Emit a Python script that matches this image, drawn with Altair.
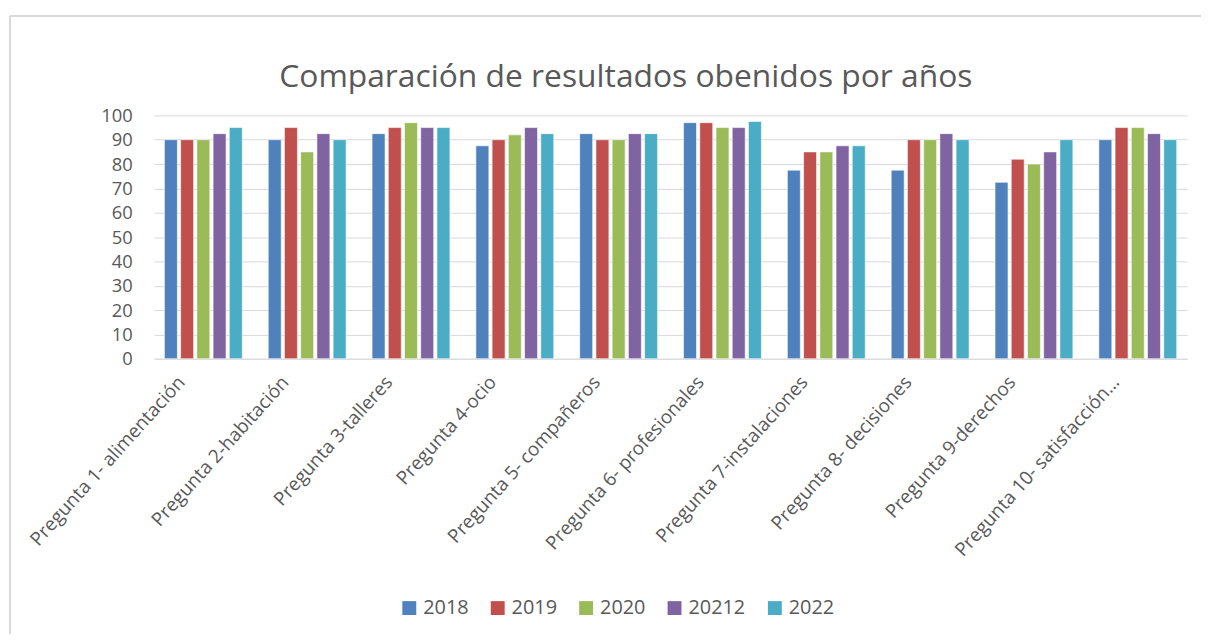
import altair as alt
import pandas as pd

preguntas = [
    "Pregunta 1- alimentación",
    "Pregunta 2-habitación",
    "Pregunta 3-talleres",
    "Pregunta 4-ocio",
    "Pregunta 5- compañeros",
    "Pregunta 6- profesionales",
    "Pregunta 7-instalaciones",
    "Pregunta 8- decisiones",
    "Pregunta 9-derechos",
    "Pregunta 10- satisfacción…",
]
years = ["2018", "2019", "2020", "20212", "2022"]
v2018 = [90, 90, 92.5, 87.5, 92.5, 97, 77.5, 77.5, 72.5, 90]
v2019 = [90, 95, 95, 90, 90, 97, 85, 90, 82, 95]
v2020 = [90, 85, 97, 92, 90, 95, 85, 90, 80, 95]
v20212 = [92.5, 92.5, 95, 95, 92.5, 95, 87.5, 92.5, 85, 92.5]
v2022 = [95, 90, 95, 92.5, 92.5, 97.5, 87.5, 90, 90, 90]
colors = ["#4F81BD", "#C0504D", "#9BBB59", "#8064A2", "#4BACC6"]

series = [v2018, v2019, v2020, v20212, v2022]
rows = []
for y, vals in zip(years, series):
    for p, v in zip(preguntas, vals):
        rows.append({"pregunta": p, "year": y, "valor": v})
df = pd.DataFrame(rows)

font = "Open Sans"
grey = "#595959"

bars = alt.Chart(df).mark_bar(stroke="white", strokeWidth=1, strokeOpacity=0.6).encode(
    x=alt.X("pregunta:N", sort=preguntas, title=None,
            scale=alt.Scale(paddingInner=0.25, paddingOuter=0.1),
            axis=alt.Axis(labelAngle=-48, labelFontSize=19, labelColor=grey,
                          labelFont=font, ticks=False, domainColor="#d9d9d9",
                          labelPadding=20, labelOffset=-22, labelLimit=400)),
    xOffset=alt.XOffset("year:N", sort=years, scale=alt.Scale(paddingInner=0.2)),
    y=alt.Y("valor:Q", title=None,
            scale=alt.Scale(domain=[0, 100]),
            axis=alt.Axis(values=list(range(0, 101, 10)), labelFontSize=18.5,
                          labelColor=grey, labelFont=font, ticks=False,
                          domain=False, gridColor="#d9d9d9", labelPadding=22)),
    color=alt.Color("year:N", sort=years,
                    scale=alt.Scale(domain=years, range=colors),
                    legend=alt.Legend(title=None, orient="none", direction="horizontal",
                                      legendX=247, legendY=486, symbolType="square",
                                      symbolSize=196, symbolStrokeWidth=0,
                                      labelFontSize=20, labelColor=grey, labelFont=font,
                                      columnPadding=19, labelOffset=4)),
)

frame_df = pd.DataFrame({"k": [0]})
top_line = alt.Chart(frame_df).mark_rule(color="#d9d9d9", strokeWidth=2).encode(
    x=alt.value(-145), x2=alt.value(1060), y=alt.value(-100)
)
left_line = alt.Chart(frame_df).mark_rule(color="#d9d9d9", strokeWidth=2).encode(
    x=alt.value(-145), y=alt.value(-100), y2=alt.value(530)
)

chart = alt.layer(bars, top_line, left_line).properties(
    width=1040,
    height=245,
    title=alt.TitleParams("Comparación de resultados obenidos por años",
                          fontSize=32, font=font, fontWeight="normal",
                          color=grey, offset=-79, dx=-45, anchor="middle"),
    autosize=alt.AutoSizeParams(type="none"),
    padding={"left": 147, "top": 106, "right": 14, "bottom": 275},
).configure_view(stroke=None)

chart.save("out.html", embed_options={"renderer": "svg", "actions": False})
